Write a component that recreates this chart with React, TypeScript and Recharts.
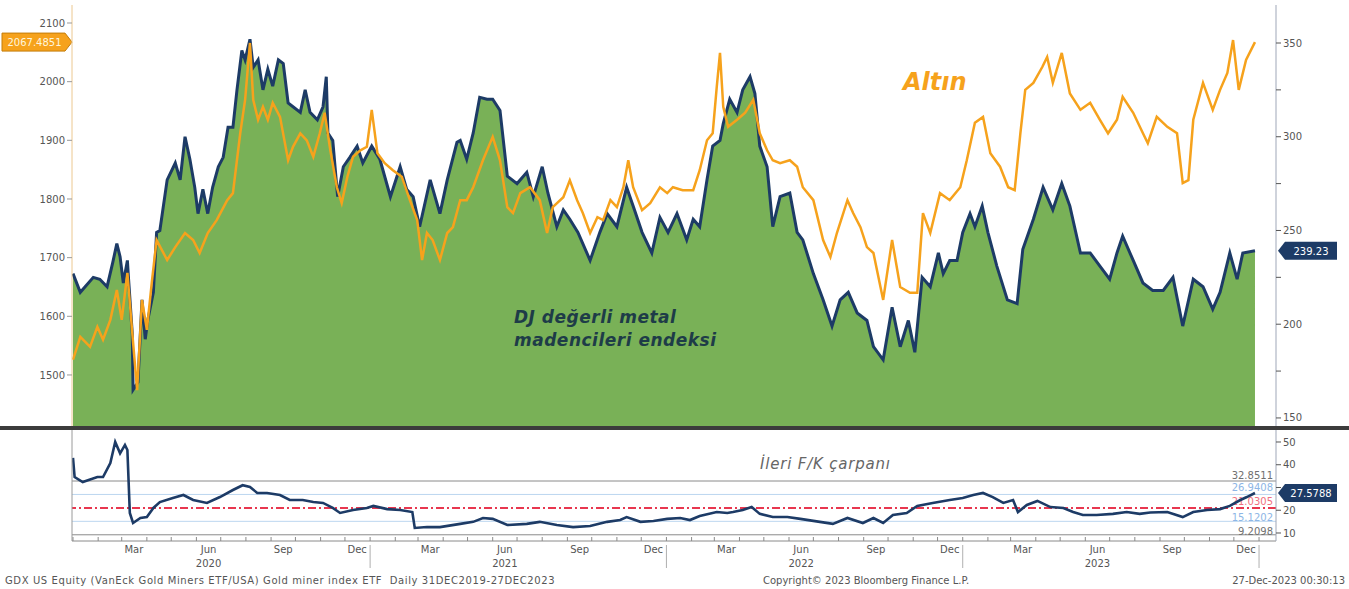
import React from 'react';
import { ComposedChart, Area, Line, XAxis, YAxis, ReferenceLine } from 'recharts';

// days since 1 Jan 2020
const gdxDays = [0,9,25,33,42,49,54,58,62,67,68,73,74,80,85,89,92,99,103,107,116,126,132,138,144,150,154,160,166,172,179,185,191,197,202,208,212,218,222,228,234,240,246,253,259,265,271,280,286,292,301,308,312,314,320,326,333,341,350,357,368,378,391,403,411,419,427,440,452,461,473,477,485,493,501,510,517,526,535,547,559,567,578,585,596,604,612,622,637,649,658,670,682,690,701,713,723,733,744,756,764,772,781,788,797,801,809,818,825,834,840,846,855,862,871,883,892,899,912,924,935,945,955,966,978,986,998,1009,1019,1029,1037,1046,1056,1066,1072,1080,1089,1096,1105,1111,1120,1127,1138,1151,1163,1170,1183,1195,1207,1218,1228,1241,1253,1265,1277,1286,1293,1306,1318,1330,1343,1355,1367,1380,1392,1404,1413,1425,1434,1441,1456];
const gdxValues = [227,217,225,224,220,233,243,236,222,234,227,195,165,169,213,192,202,217,249,250,277,286,277,300,288,273,259,272,259,273,284,289,305,305,325,346,341,352,337,341,325,336,327,341,339,318,316,313,325,313,309,316,332,302,298,268,284,289,295,286,295,288,268,284,272,268,252,277,259,277,297,298,288,302,321,320,320,314,279,275,281,268,284,270,252,261,256,249,234,249,259,252,273,263,249,238,257,249,259,245,256,252,277,295,298,307,320,313,325,332,323,295,284,252,268,270,249,245,227,213,199,213,217,206,202,188,181,209,188,202,185,225,220,238,227,234,234,249,259,252,263,249,231,213,211,240,256,273,261,275,263,238,238,231,224,238,247,234,222,218,218,225,199,224,220,208,217,238,224,238,239.23];

const goldDays = [0,9,21,30,37,46,54,60,67,73,79,85,91,97,103,116,126,138,148,156,166,177,190,197,206,212,218,222,228,234,240,246,255,265,271,280,288,296,304,310,317,325,331,338,345,354,362,368,375,384,394,405,415,424,430,436,443,452,461,468,477,485,493,505,517,526,535,542,551,563,575,584,591,604,612,621,628,637,646,653,662,670,678,684,690,701,711,723,732,739,751,764,772,781,788,793,797,801,807,818,828,838,846,855,862,871,883,892,899,912,924,933,941,954,961,970,978,986,998,1009,1019,1031,1040,1047,1056,1068,1080,1093,1101,1111,1121,1130,1142,1152,1160,1167,1173,1183,1194,1200,1207,1218,1228,1241,1253,1265,1275,1286,1293,1306,1318,1324,1335,1348,1360,1367,1374,1380,1392,1404,1413,1422,1429,1436,1445,1456];
const goldValues = [1526,1565,1548,1582,1560,1594,1645,1594,1674,1572,1474,1628,1577,1657,1730,1696,1718,1742,1730,1708,1742,1764,1798,1810,1912,1969,2066,1969,1935,1957,1935,1964,1940,1866,1889,1912,1900,1872,1912,1947,1883,1820,1793,1838,1872,1883,1889,1952,1878,1861,1849,1838,1798,1764,1696,1742,1730,1696,1742,1752,1798,1798,1820,1866,1906,1866,1786,1776,1810,1820,1798,1742,1786,1803,1832,1798,1776,1742,1769,1764,1798,1786,1820,1866,1820,1781,1793,1820,1810,1820,1815,1815,1849,1900,1912,1991,2049,1957,1923,1935,1947,1969,1912,1883,1866,1861,1866,1855,1820,1798,1730,1701,1742,1798,1776,1752,1718,1708,1628,1730,1650,1640,1640,1776,1742,1810,1798,1820,1866,1930,1940,1878,1855,1820,1815,1912,1986,1998,2025,2042,1998,2049,1980,1952,1964,1935,1912,1935,1974,1947,1912,1895,1940,1923,1912,1827,1832,1935,1998,1952,1986,2015,2071,1986,2037,2067.49];

const peDays = [0,2,12,30,37,46,52,58,64,67,70,74,83,91,99,107,123,136,148,165,181,197,209,218,227,239,255,267,283,296,308,320,329,345,362,370,387,403,418,421,436,452,477,493,505,517,535,559,575,596,616,637,658,674,682,699,715,732,748,760,772,793,806,813,825,836,846,862,880,896,920,936,954,973,986,998,1010,1027,1040,1059,1080,1096,1109,1121,1133,1146,1158,1164,1175,1188,1204,1220,1232,1244,1261,1281,1298,1314,1327,1348,1367,1380,1397,1413,1425,1438,1446,1456];
const peValues = [43,34.6,32.4,34.6,34.6,40.7,50,45,48.7,46.5,18.8,14.4,16.6,17,21,23.6,25.4,26.7,24.5,23.2,25.8,28.9,31,30.2,27.6,27.6,26.7,24.5,24.5,23.6,23.2,21,18.8,20.1,21,21.9,20.5,20.1,19.2,12.2,12.6,12.6,14,14.9,16.6,16.2,13.5,14,14.9,13.5,12.6,13.1,14.9,15.7,17,14.9,15.3,16.2,16.6,15.7,17.5,19.2,18.8,19.2,20.1,21.4,18.4,17,17,16.2,14.9,14,16.6,14.4,16.6,14.4,17.9,18.8,21.9,23.2,24.5,25.4,26.7,27.6,25.8,23.2,24.5,19.2,22.3,24.1,21.4,21,19.2,17.9,17.9,18.4,19.2,18.4,19,19.2,17,19.2,20.1,20.5,21.9,24.5,25.8,27.58];

const peBands = [
  { v: 32.8511, color: '#8a8a8a', text: '#707070', dy: -2 },
  { v: 26.9408, color: '#bcd6f0', text: '#8db6e6', dy: -3 },
  { v: 15.1202, color: '#bcd6f0', text: '#8db6e6', dy: 0 },
  { v: 9.2098, color: '#8a8a8a', text: '#707070', dy: 0 },
];
const peMean = 21.0305;

const goldTicks = [1500, 1600, 1700, 1800, 1900, 2000, 2100];
const gdxTicks = [150, 175, 200, 225, 250, 275, 300, 325, 350];
const peTicks = [10, 20, 30, 40, 50];
const monthNames = ['Jan','Feb','Mar','Apr','May','Jun','Jul','Aug','Sep','Oct','Nov','Dec'];
const labelledMonths = ['Mar', 'Jun', 'Sep', 'Dec'];

const gdxData = gdxDays.map((d, i) => ({ d, v: gdxValues[i] }));
const goldData = goldDays.map((d, i) => ({ d, v: goldValues[i] }));
const peData = peDays.map((d, i) => ({ d, v: peValues[i] }));

const DAY0 = Date.UTC(2020, 0, 1);
const monthTicks: number[] = [];
for (let y = 2020; y <= 2024; y++) {
  for (let m = 0; m < 12; m++) {
    if (y === 2024 && m > 0) break;
    monthTicks.push((Date.UTC(y, m, 1) - DAY0) / 864e5);
  }
}

const X_DOMAIN: [number, number] = [-1.23, 1481.9];
const PX_PER_DAY = 1204 / (X_DOMAIN[1] - X_DOMAIN[0]);
const FONT = 'DejaVu Sans, Verdana, sans-serif';

const NAVY = '#1d3b66';
const ORANGE = '#f6a21c';
const GREEN = '#79b157';

const MonthTick = (props: any) => {
  const { x, y, payload } = props;
  const idx = monthTicks.indexOf(payload.value);
  const m = idx % 12;
  const year = 2020 + Math.floor(idx / 12);
  const name = monthNames[m];
  const mid = x + 15 * PX_PER_DAY;
  return (
    <g>
      <line x1={x} x2={x} y1={y - 4} y2={y} stroke="#8a8a8a" />
      {labelledMonths.includes(name) && year < 2024 && (
        <text x={mid} y={y + 12} textAnchor="middle" fontSize={10} fill="#555" fontFamily={FONT}>{name}</text>
      )}
      {name === 'Jun' && (
        <text x={mid} y={y + 26} textAnchor="middle" fontSize={10} fill="#555" fontFamily={FONT}>{year}</text>
      )}
      {m === 0 && idx > 0 && <line x1={x} x2={x} y1={y + 4} y2={y + 27} stroke="#b0b0b0" />}
    </g>
  );
};

const LeftTag = (props: any) => {
  const { viewBox, text } = props;
  const y = viewBox.y;
  const x1 = viewBox.x;
  return (
    <g>
      <path d={`M2 ${y - 9} H${x1 - 7} L${x1} ${y} L${x1 - 7} ${y + 9} H2 Z`} fill={ORANGE} stroke="#c47d0a" />
      <text x={(x1 - 5) / 2 + 1} y={y + 4} textAnchor="middle" fontSize={10} fill="#fff6dc" fontFamily={FONT}>{text}</text>
    </g>
  );
};

const RightTag = (props: any) => {
  const { viewBox, text } = props;
  const y = viewBox.y;
  const x0 = viewBox.x + viewBox.width + 2;
  return (
    <g>
      <path d={`M${x0} ${y} L${x0 + 7} ${y - 9} H${x0 + 59} V${y + 9} H${x0 + 7} Z`} fill={NAVY} />
      <text x={x0 + 33} y={y + 4} textAnchor="middle" fontSize={10} fill="#fff" fontFamily={FONT}>{text}</text>
    </g>
  );
};

const BandLabel = (props: any) => {
  const { viewBox, text, color, dy } = props;
  return (
    <text x={viewBox.x + viewBox.width - 3} y={viewBox.y + dy} textAnchor="end" fontSize={10} fill={color} fontFamily={FONT}>{text}</text>
  );
};

const tickStyle = { fontSize: 10, fill: '#555', fontFamily: FONT };

export default function App() {
  return (
    <div style={{ position: 'absolute', left: 0, top: 0, width: 1349, height: 589, background: '#fff', fontFamily: FONT }}>
      <div style={{ position: 'absolute', left: 0, top: 0 }}>
        <ComposedChart width={1349} height={430} margin={{ top: 5, right: 0, bottom: 4, left: 0 }}>
          <XAxis dataKey="d" type="number" domain={X_DOMAIN} allowDataOverflow hide />
          <YAxis yAxisId="gold" orientation="left" width={72} type="number" domain={[1413, 2130.7]} allowDataOverflow
            ticks={goldTicks} tick={tickStyle} tickSize={5} tickMargin={2} stroke="#ecc890" tickLine={{ stroke: '#999' }} />
          <YAxis yAxisId="gdx" orientation="right" width={73} type="number" domain={[145.7, 370.27]} allowDataOverflow
            ticks={gdxTicks} tickFormatter={(v: number) => (v % 50 === 0 ? String(v) : '')}
            tick={tickStyle} tickSize={5} tickMargin={2} stroke="#9fa7b8" tickLine={{ stroke: '#555' }} />
          <Area yAxisId="gdx" data={gdxData} dataKey="v" type="linear" stroke={NAVY} strokeWidth={3}
            fill={GREEN} fillOpacity={1} dot={false} activeDot={false} isAnimationActive={false} />
          <Line yAxisId="gold" data={goldData} dataKey="v" type="linear" stroke={ORANGE} strokeWidth={2.5}
            dot={false} activeDot={false} isAnimationActive={false} />
          <ReferenceLine yAxisId="gold" y={goldValues[goldValues.length - 1]} stroke="none"
            label={<LeftTag text="2067.4851" />} />
          <ReferenceLine yAxisId="gdx" y={gdxValues[gdxValues.length - 1]} stroke="none"
            label={<RightTag text="239.23" />} />
        </ComposedChart>
      </div>

      <div style={{ position: 'absolute', left: 0, top: 426, width: 1349, height: 4, background: '#3c3c3c' }} />

      <div style={{ position: 'absolute', left: 0, top: 430 }}>
        <ComposedChart width={1349} height={159} margin={{ top: 0, right: 0, bottom: 0, left: 0 }}>
          <XAxis dataKey="d" type="number" domain={X_DOMAIN} allowDataOverflow ticks={monthTicks} interval={0}
            tick={<MonthTick />} tickLine={false} tickSize={0} tickMargin={0} height={48} stroke="#8a8a8a" />
          <YAxis yAxisId="l" orientation="left" width={72} type="number" domain={[6.48, 55.27]} allowDataOverflow
            tick={false} tickLine={false} stroke="#9a9a9a" />
          <YAxis yAxisId="r" orientation="right" width={73} type="number" domain={[6.48, 55.27]} allowDataOverflow
            ticks={peTicks} tickFormatter={(v: number) => (v === 30 ? '' : String(v))}
            tick={tickStyle} tickSize={5} tickMargin={2} stroke="#9fa7b8" tickLine={{ stroke: '#555' }} />
          {peBands.map((b) => (
            <ReferenceLine key={b.v} yAxisId="r" y={b.v} stroke={b.color} strokeWidth={1}
              label={<BandLabel text={b.v.toFixed(4)} color={b.text} dy={b.dy} />} />
          ))}
          <ReferenceLine yAxisId="r" y={peMean} stroke="#e8374f" strokeWidth={2} strokeDasharray="8 3 2 3"
            label={<BandLabel text={peMean.toFixed(4)} color="#f07080" dy={-3} />} />
          <Line yAxisId="r" data={peData} dataKey="v" type="linear" stroke={NAVY} strokeWidth={2.6}
            dot={false} activeDot={false} isAnimationActive={false} />
          <ReferenceLine yAxisId="r" y={peValues[peValues.length - 1]} stroke="none"
            label={<RightTag text="27.5788" />} />
        </ComposedChart>
      </div>

      <div style={{ position: 'absolute', left: 903, top: 68, fontSize: 24, fontWeight: 'bold', fontStyle: 'italic', color: ORANGE }}>Altın</div>
      <div style={{ position: 'absolute', left: 514, top: 306, fontSize: 17, letterSpacing: 0.5, fontWeight: 'bold', fontStyle: 'italic', color: '#1e3c48', lineHeight: '23px' }}>
        DJ değerli metal<br />madencileri endeksi
      </div>
      <div style={{ position: 'absolute', left: 760, top: 455, fontSize: 15, letterSpacing: 0.8, fontStyle: 'italic', color: '#666' }}>İleri F/K çarpanı</div>

      <div style={{ position: 'absolute', left: 5, top: 575, fontSize: 10, letterSpacing: 0.6, color: '#555', whiteSpace: 'pre' }}>
        GDX US Equity (VanEck Gold Miners ETF/USA) Gold miner index ETF  Daily 31DEC2019-27DEC2023
      </div>
      <div style={{ position: 'absolute', left: 763, top: 575, fontSize: 10, color: '#555' }}>Copyright© 2023 Bloomberg Finance L.P.</div>
      <div style={{ position: 'absolute', right: 4, top: 575, fontSize: 10, color: '#555' }}>27-Dec-2023 00:30:13</div>
    </div>
  );
}
